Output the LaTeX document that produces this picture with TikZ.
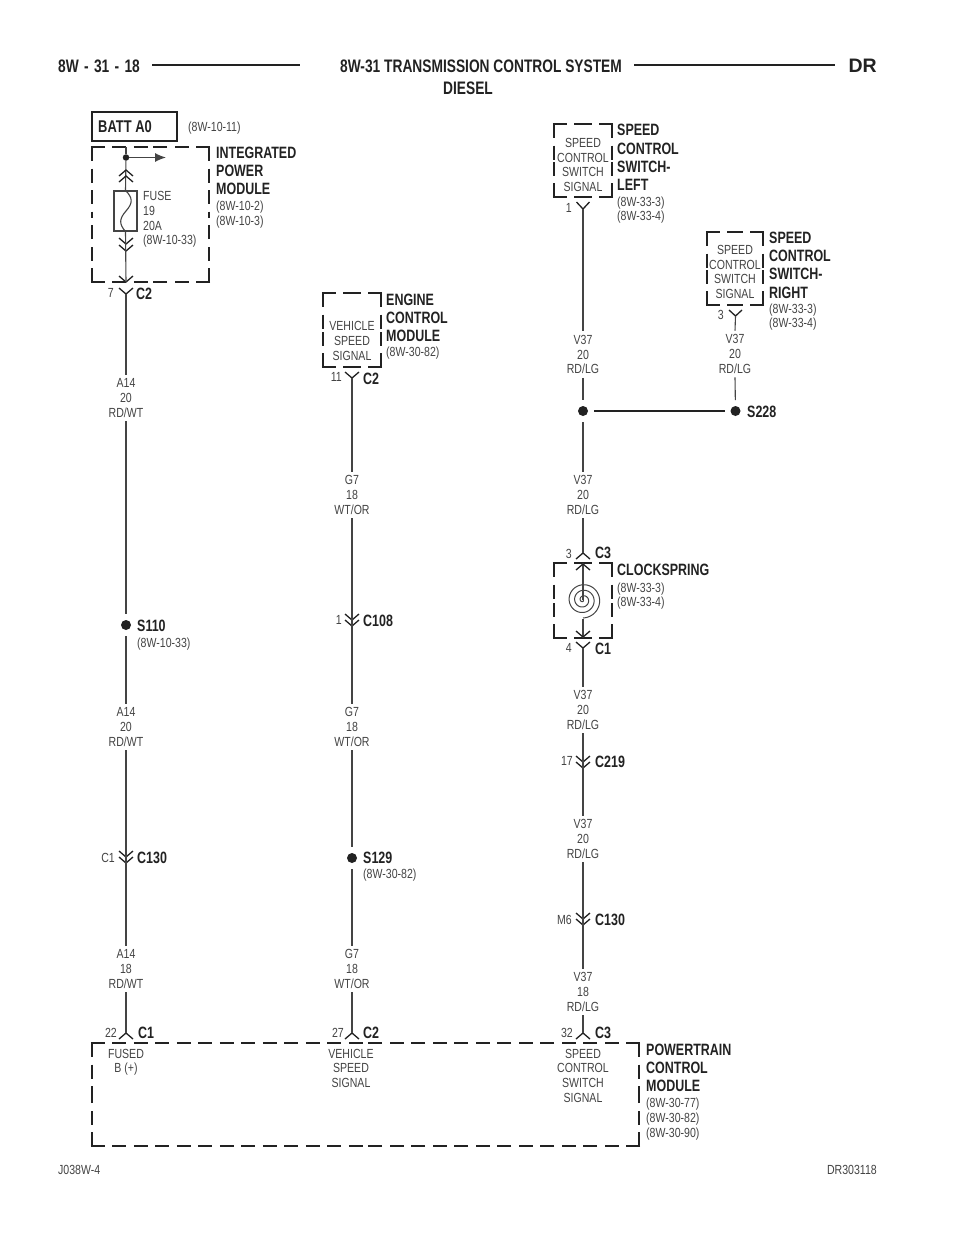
\documentclass[tikz,border=0pt]{standalone}
\usepackage{fontspec}
\usetikzlibrary{arrows.meta}
\setmainfont{Liberation Sans}
\newfontfamily\lbfont[FakeStretch=0.80]{Liberation Sans}
\newfontfamily\bdfont[FakeStretch=0.76,UprightFont=* Bold]{Liberation Sans}
\definecolor{ink}{HTML}{222222}
\definecolor{wirec}{HTML}{444444}
\tikzset{
 wire/.style={draw=wirec,line width=1.1pt},
 chev/.style={draw=ink,line width=1.3pt,line join=miter},
 dside/.style={draw=ink,line width=2.2pt,dash pattern=on 14pt off 7.5pt},
 hline/.style={draw=ink,line width=2.5pt},
 small/.style={font=\lbfont\fontsize{13.2}{14.6}\selectfont,text=wirec,inner sep=0pt,outer sep=4pt,align=center},
 lsmall/.style={font=\lbfont\fontsize{13.2}{14.6}\selectfont,text=wirec,inner sep=0pt,align=left,anchor=west},
 rsmall/.style={font=\lbfont\fontsize{13.2}{14.6}\selectfont,text=wirec,inner sep=0pt,align=right,anchor=east},
 bold/.style={font=\bdfont\fontsize{16.4}{18.3}\selectfont,text=ink,inner sep=0pt,align=left,anchor=west},
 head/.style={font=\bdfont\fontsize{18.1}{21.5}\selectfont,text=ink,inner sep=0pt,align=center},
 splice/.style={circle,fill=ink,inner sep=0pt,minimum size=10pt,outer sep=6pt},
}
% connector marks, (x,y) is the tip of the mark
\newcommand{\chdown}[2]{\draw[chev] (#1-7,#2-6) -- (#1,#2) -- (#1+7,#2-6);}
\newcommand{\chup}[2]{\draw[chev] (#1-7,#2+6) -- (#1,#2) -- (#1+7,#2+6);}
% dashed module outline: every side is dashed from its two corners towards its middle
\newcommand{\dblock}[4]{%
 \draw[dside] (#1-1.1,#2) -- ({(#1+#3)/2},#2);\draw[dside] (#3+1.1,#2) -- ({(#1+#3)/2},#2);
 \draw[dside] (#1-1.1,#4) -- ({(#1+#3)/2},#4);\draw[dside] (#3+1.1,#4) -- ({(#1+#3)/2},#4);
 \draw[dside] (#1,#2) -- (#1,{(#2+#4)/2});\draw[dside] (#1,#4) -- (#1,{(#2+#4)/2});
 \draw[dside] (#3,#2) -- (#3,{(#2+#4)/2});\draw[dside] (#3,#4) -- (#3,{(#2+#4)/2});}
\begin{document}
\begin{tikzpicture}[x=1pt,y=-1pt]
\useasboundingbox (0,0) rectangle (960,1242);
\fill[white] (0,0) rectangle (960,1242);
% header
\node[head,anchor=west] (hl) at (58,66.5) {8W\hspace{1.5pt} - \hspace{1.5pt}31\hspace{1.5pt} - \hspace{1.5pt}18};
\node[head] (ht) at (481,66.5) {8W-31 TRANSMISSION CONTROL SYSTEM};
\node[head] (hd) at (468,88) {DIESEL};
\node[head,anchor=east,font=\bfseries\fontsize{19.5}{20}\selectfont] (hr) at (877,66) {DR};
\draw[hline] (152,65) -- (300,65);
\draw[hline] (634,65) -- (835,65);
\node[lsmall] (fl) at (58,1170) {J038W-4};
\node[rsmall] (fr) at (877,1170) {DR303118};

% ---- column 1
\node[draw=ink,line width=2pt,minimum width=85pt,minimum height=29pt,inner sep=0pt] (batt) at (134.5,126.5) {};
\node[bold,font=\bdfont\fontsize{17}{19}\selectfont] (battt) at (98,126.5) {BATT A0};
\node[lsmall] (battr) at (188,128) {(8W-10-11)};
\dblock{92}{147}{209}{282}
\node[bold] (ipm) at (216,171) {INTEGRATED\\POWER\\MODULE};
\node[lsmall] (ipmr) at (216,214.5) {(8W-10-2)\\(8W-10-3)};
\node[lsmall] (fuset) at (143,219.5) {FUSE\\19\\20A\\(8W-10-33)};
\coordinate (ipmtop) at (126,147);
\node[circle,fill=ink,inner sep=0pt,minimum size=6.5pt] (bus) at (126,157.5) {};
\coordinate (busend) at (166,157.5);
\draw[wire,-{Latex[length=11pt,width=9pt]}] (bus) -- (busend);
\node[draw=wirec,line width=1.1pt,minimum width=23pt,minimum height=40pt,inner sep=0pt] (fuse) at (125.5,211) {};
\draw[wire] (ipmtop) -- (bus);
\draw[wire] (bus) -- (fuse.north);
\draw[wire] (fuse.north) .. controls (133,198) and (133,203) .. (126,211) .. controls (119,219) and (119,224) .. (fuse.south);
\chup{126}{170}\chup{126}{176}
\chdown{126}{244}\chdown{126}{251}
\chdown{126}{282}
\coordinate (ipmbot) at (126,282);
\draw[wire] (fuse.south) -- (ipmbot);
\coordinate (c2a) at (126,294);
\chdown{126}{294}
\node[rsmall] (p7) at (114,292.5) {7};
\node[bold] (c2at) at (136,294) {C2};
\node[small] (a14a) at (126,398) {A14\\20\\RD/WT};
\draw[wire] (c2a) -- (a14a.north);
\node[splice] (s110) at (126,625) {};
\node[bold] (s110t) at (137,626) {S110};
\node[lsmall] (s110r) at (137,644.5) {(8W-10-33)};
\draw[wire] (a14a.south) -- (s110);
\node[small] (a14b) at (126,727) {A14\\20\\RD/WT};
\draw[wire] (s110) -- (a14b.north);
\coordinate (c130a) at (126,863);
\chdown{126}{857}\chdown{126}{863}
\node[rsmall] (c1p) at (115,858) {C1};
\node[bold] (c130at) at (137,858) {C130};
\node[small] (a14c) at (126,969) {A14\\18\\RD/WT};
\draw[wire] (a14b.south) -- (c130a);
\draw[wire] (c130a) -- (a14c.north);
\coordinate (pcm1) at (126,1033);
\chup{126}{1033}
\draw[wire] (a14c.south) -- (pcm1);
\node[rsmall] (p22) at (117,1033) {22};
\node[bold] (c1t) at (138,1033) {C1};

% ---- column 2
\dblock{323}{293}{381}{367}
\node[small,outer sep=0pt] (ecmt) at (352,341) {VEHICLE\\SPEED\\SIGNAL};
\node[bold] (ecm) at (386,318) {ENGINE\\CONTROL\\MODULE};
\node[lsmall] (ecmr) at (386,353) {(8W-30-82)};
\coordinate (c2b) at (352,378);
\chdown{352}{378}
\node[rsmall] (p11) at (342,377) {11};
\node[bold] (c2bt) at (363,379) {C2};
\node[small] (g7a) at (352,495) {G7\\18\\WT/OR};
\draw[wire] (c2b) -- (g7a.north);
\coordinate (c108) at (352,626);
\chdown{352}{620}\chdown{352}{626}
\node[rsmall] (p1b) at (342,620) {1};
\node[bold] (c108t) at (363,621) {C108};
\draw[wire] (g7a.south) -- (c108);
\node[small] (g7b) at (352,727) {G7\\18\\WT/OR};
\draw[wire] (c108) -- (g7b.north);
\node[splice] (s129) at (352,858) {};
\node[bold] (s129t) at (363,858) {S129};
\node[lsmall] (s129r) at (363,875) {(8W-30-82)};
\draw[wire] (g7b.south) -- (s129);
\node[small] (g7c) at (352,969) {G7\\18\\WT/OR};
\draw[wire] (s129) -- (g7c.north);
\coordinate (pcm2) at (352,1033);
\chup{352}{1033}
\draw[wire] (g7c.south) -- (pcm2);
\node[rsmall] (p27) at (344,1033) {27};
\node[bold] (c2t) at (363,1033) {C2};

% ---- column 3
\dblock{554}{124}{612}{197}
\node[small,outer sep=0pt] (swlt) at (583,165) {SPEED\\CONTROL\\SWITCH\\SIGNAL};
\node[bold] (swl) at (617,157.5) {SPEED\\CONTROL\\SWITCH-\\LEFT};
\node[lsmall] (swlr) at (617,210) {(8W-33-3)\\(8W-33-4)};
\coordinate (swlp) at (583,209);
\draw[chev] (576.5,202) -- (swlp) -- (589.5,202);
\node[rsmall] (p1) at (572,208) {1};
\node[small] (v1) at (583,354.5) {V37\\20\\RD/LG};
\draw[wire] (swlp) -- (v1.north);
\node[splice] (sj) at (583,411) {};
\draw[wire] (v1.south) -- (sj);

\dblock{707}{232}{763}{305}
\node[small,outer sep=0pt] (swrt) at (735,272) {SPEED\\CONTROL\\SWITCH\\SIGNAL};
\node[bold] (swr) at (769,265) {SPEED\\CONTROL\\SWITCH-\\RIGHT};
\node[lsmall] (swrr) at (769,317) {(8W-33-3)\\(8W-33-4)};
\coordinate (swrp) at (735.5,316);
\draw[chev] (729,310) -- (swrp) -- (742,310);
\node[rsmall] (p3r) at (724,315) {3};
\node[small] (v2) at (735,354) {V37\\20\\RD/LG};
\draw[wire] (swrp) -- (v2.north);
\node[splice] (s228) at (735.5,411) {};
\node[bold] (s228t) at (747,412) {S228};
\draw[wire] (v2.south) -- (s228);
\draw[hline] (sj) -- (s228);

\node[small] (v3) at (583,495) {V37\\20\\RD/LG};
\draw[wire] (sj) -- (v3.north);
\coordinate (c3a) at (583,553);
\draw[chev] (576,559) -- (c3a) -- (590,559);
\draw[wire] (v3.south) -- (c3a);
\node[rsmall] (p3c) at (572,554) {3};
\node[bold] (c3at) at (595,553) {C3};
\dblock{554}{563}{612}{638}
\node[bold] (csp) at (617,570) {CLOCKSPRING};
\node[lsmall] (cspr) at (617,596) {(8W-33-3)\\(8W-33-4)};
\coordinate (csc) at (583,600);
\coordinate (cst) at (583,563);
\coordinate (csb) at (583,619);
\coordinate (csd) at (583,638);
\draw[wire] (cst) -- (csc);
\draw[wire,line width=1pt] plot[domain=0:1170,samples=240,smooth] ({583+\x/65*cos(\x)},{600+\x/65*sin(\x)});
\draw[wire] (csb) -- (csd);
\chup{583}{564}\chdown{583}{637}
\coordinate (c1c) at (583,648);
\draw[chev] (576,642) -- (c1c) -- (590,642);
\node[rsmall] (p4) at (572,648) {4};
\node[bold] (c1ct) at (595,649) {C1};
\node[small] (v4) at (583,710) {V37\\20\\RD/LG};
\draw[wire] (c1c) -- (v4.north);
\coordinate (c219) at (583,768);
\chdown{583}{762}\chdown{583}{768}
\node[rsmall] (p17) at (573,761) {17};
\node[bold] (c219t) at (595,762) {C219};
\draw[wire] (v4.south) -- (c219);
\node[small] (v5) at (583,839) {V37\\20\\RD/LG};
\draw[wire] (c219) -- (v5.north);
\coordinate (c130c) at (583,925);
\chdown{583}{919}\chdown{583}{925}
\node[rsmall] (m6) at (572,920) {M6};
\node[bold] (c130ct) at (595,920) {C130};
\draw[wire] (v5.south) -- (c130c);
\node[small] (v6) at (583,992) {V37\\18\\RD/LG};
\draw[wire] (c130c) -- (v6.north);
\coordinate (pcm3) at (583,1033);
\chup{583}{1033}
\draw[wire] (v6.south) -- (pcm3);
\node[rsmall] (p32) at (573,1033) {32};
\node[bold] (c3t) at (595,1033) {C3};

% ---- PCM
\dblock{92}{1043}{639}{1146}
\node[small,anchor=north,outer sep=0pt] (f1) at (126,1049) {FUSED\\B (+)};
\node[small,anchor=north,outer sep=0pt] (f2) at (351,1049) {VEHICLE\\SPEED\\SIGNAL};
\node[small,anchor=north,outer sep=0pt] (f3) at (583,1049) {SPEED\\CONTROL\\SWITCH\\SIGNAL};
\node[bold] (pcm) at (646,1068) {POWERTRAIN\\CONTROL\\MODULE};
\node[lsmall] (pcmr) at (646,1119) {(8W-30-77)\\(8W-30-82)\\(8W-30-90)};
\end{tikzpicture}
\end{document}
